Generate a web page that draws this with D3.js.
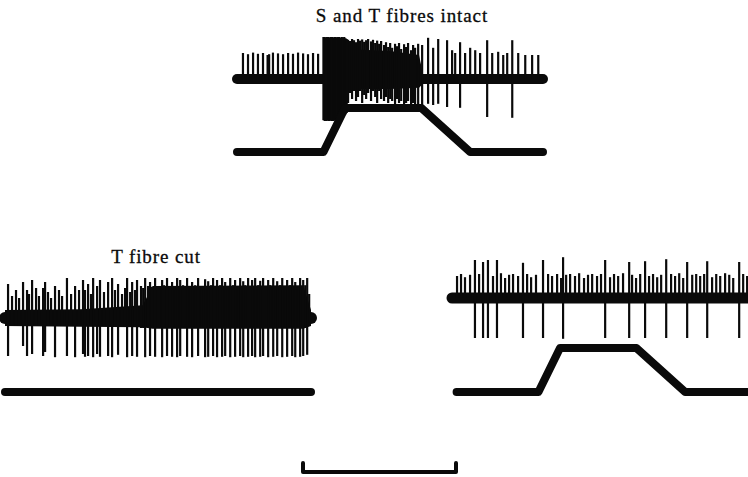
<!DOCTYPE html>
<html>
<head>
<meta charset="utf-8">
<script src="https://cdn.jsdelivr.net/npm/d3@7"></script>
<style>
  html, body { margin: 0; padding: 0; background: #fff; }
  svg { display: block; }
  text { font-family: "Liberation Serif", "Times New Roman", serif; fill: #0a0a0a; }
</style>
</head>
<body>
<div id="chart"></div>
<script>
// ---------- DATA (time in ms, amplitudes in relative units) ----------
const panelTitles = ["S and T fibres intact", "T fibre cut", ""];
const traceDuration = 2000;   // ms per sweep
const scaleBarMs = 1000;      // calibration bar

// stimulus (ramp stretch, 0 = rest, 1 = plateau)
const stimRamp = [[0, 0], [565, 0], [706, 1], [1205, 1], [1524, 0], [2000, 0]];
const stimFlat = [[0, 0], [2000, 0]];

// Panel A: S and T fibres intact  [t, up, down]
const spikesA = [
  [39,0.65,0],[72,0.62,0],[105,0.66,0],[137,0.63,0],[170,0.65,0],[200,0.6,0],[210,0.62,0],[235,0.66,0],
  [268,0.64,0],[301,0.62,0],[334,0.65,0],[366,0.63,0],[399,0.66,0],[432,0.64,0],[464,0.62,0],[497,0.65,0],[530,0.63,0],
  [565,1.05,1.03],[573,1.05,1.05],[581,1.04,1.05],[589,1.05,1.04],[597,1.05,1.05],[605,1.04,1.05],[613,1.05,1.04],
  [621,1.05,1.05],[629,1.04,1.05],[637,1.05,1.04],[645,1.05,1.03],[653,1.04,1.02],[661,1.05,1.0],[669,1.05,0.98],
  [677,1.03,0.95],[685,1.05,0.95],[693,1.04,0.92],[701,1.05,0.9],[709,1.02,0.88],[717,1.0,0.85],
  [726,0.98,0.6],[739,0.95,0.35],[752,1.0,0.5],[765,0.97,0.3],[778,0.92,0.55],[791,1.0,0.45],[804,0.96,0.3],
  [818,0.99,0.6],[831,0.93,0.4],[844,0.97,0.5],[857,1.0,0.35],[876,0.94,0.55],[889,0.98,0.3],[903,0.9,0.45],
  [916,0.96,0.6],[929,0.88,0.3],[942,0.95,0.5],[961,0.85,0.55],[974,0.92,0.45],[988,0.8,0.6],[1001,0.9,0.5],
  [1014,0.78,0.55],[1033,0.88,0.65],[1046,0.82,0.5],[1059,0.9,0.6],[1073,0.75,0.55],[1092,0.87,0.65],
  [1105,0.8,0.6],[1118,0.9,0.55],[1138,0.72,0.65],[1151,0.85,0.6],[1164,0.78,0.7],[1184,0.88,0.65],
  [1210,0.85,0.7],[1249,1.03,0.62],[1282,0.78,0.65],[1315,1.0,0.62],[1373,0.97,0.7],[1406,0.72,0],[1426,0.65,0],
  [1458,0.92,0.72],[1491,0.65,0],[1524,0.78,0],[1557,0.72,0],[1589,0.65,0],[1635,0.97,0.95],[1668,0.65,0],
  [1707,0.68,0],[1740,0.6,0],[1766,0.65,0],[1799,0.97,0.97],[1838,0.65,0],[1884,0.6,0],[1929,0.6,0],[1969,0.6,0]
];
// background activity envelope during the burst in A  [t, up, down]
const envelopeA = [[560,0.12,0.12],[720,0.75,0.25],[1000,0.7,0.25],[1190,0.6,0.22],[1215,0.12,0.12]];

// Panel B: T fibre cut  [t, up, down]
const spikesB = [
  [20,0.85,0.95],[118,0.9,0.7],[144,0.7,0.95],[177,0.95,0.9],[249,0.75,0.95],[262,0.9,0.85],[327,0.8,0.98],
  [405,1.0,0.95],[458,0.8,0.98],[510,0.95,0.9],[523,0.7,0.97],[543,0.85,0.95],[576,1.0,0.98],[602,0.8,0.9],
  [621,0.95,0.97],[674,0.9,0.95],[700,1.0,0.98],[739,0.85,0.92],[798,1.0,0.98],[831,0.9,0.95],[863,0.95,0.97],
  [916,1.0,0.98],[948,0.9,0.95],[981,1.0,0.97],[1027,0.95,0.98],[1059,1.0,0.95],[1092,0.9,0.97],[1125,1.0,0.98],
  [1145,0.95,0.95],[1190,1.0,0.97],[1223,0.9,0.98],[1262,1.0,0.95],[1308,0.97,0.98],[1328,0.92,0.97],
  [1360,1.0,0.95],[1386,0.95,0.98],[1419,1.0,0.97],[1439,0.9,0.95],[1472,1.0,0.98],[1504,0.95,0.97],
  [1537,1.0,0.95],[1557,0.92,0.98],[1589,1.0,0.97],[1615,0.95,0.95],[1635,1.0,0.98],[1668,0.93,0.97],
  [1687,1.0,0.95],[1720,0.95,0.98],[1753,1.0,0.97],[1779,0.92,0.95],[1812,1.0,0.98],[1844,0.95,0.97],
  [1877,1.0,0.95],[1897,0.9,0.98],[1929,1.0,0.97],[1949,0.95,0.95],[1975,1.0,0.92],
  [46,0.55,0.15],[72,0.7,0.2],[92,0.5,0.15],[157,0.6,0.15],[203,0.75,0.2],[222,0.55,0.15],[281,0.65,0.2],
  [301,0.5,0.15],[353,0.7,0.2],[373,0.55,0.15],[432,0.6,0.2],[484,0.7,0.2],[562,0.6,0.2],[647,0.65,0.2],
  [719,0.7,0.2],[765,0.6,0.2],[785,0.75,0.2],[818,0.65,0.2],[850,0.7,0.2],[889,0.8,0.25],[903,0.75,0.25],
  [935,0.8,0.25],[961,0.78,0.25],[1007,0.8,0.25],[1040,0.82,0.25],[1079,0.8,0.25],[1112,0.78,0.25],
  [1164,0.82,0.25],[1177,0.8,0.25],[1210,0.8,0.25],[1243,0.82,0.25],[1282,0.8,0.25],[1295,0.78,0.25],
  [1347,0.82,0.25],[1373,0.8,0.25],[1406,0.82,0.25],[1452,0.8,0.25],[1491,0.82,0.25],[1524,0.8,0.25],
  [1570,0.82,0.25],[1602,0.8,0.25],[1655,0.82,0.25],[1700,0.8,0.25],[1733,0.82,0.25],[1766,0.8,0.25],
  [1798,0.82,0.25],[1831,0.8,0.25],[1864,0.82,0.25],[1916,0.8,0.25],[1962,0.82,0.25],[1988,0.6,0.2]
];
// multi-unit background activity envelope in B  [t, up, down]
const envelopeB = [[0,0.2,0.2],[500,0.22,0.22],[900,0.32,0.23],[965,0.8,0.27],[1950,0.82,0.27],[2000,0.2,0.2]];

// Panel C: T fibre alone (S fibre cut)  [t, up, down]
const spikesC = [
  [150,0.95,1.0],[203,0.9,1.0],[235,0.95,1.0],[294,0.95,1.0],[464,0.88,1.0],[595,0.95,1.0],[726,1.02,1.02],
  [1001,0.95,1.0],[1158,0.9,1.0],[1262,0.92,1.0],[1400,0.97,1.0],[1537,0.9,1.0],[1668,0.92,1.0],[1877,0.9,1.0],
  [33,0.55,0],[59,0.6,0],[85,0.52,0],[118,0.58,0],[177,0.6,0],[268,0.55,0],[320,0.62,0],[347,0.5,0],[373,0.58,0],
  [399,0.6,0],[432,0.55,0],[491,0.6,0],[517,0.52,0],[549,0.58,0],[628,0.6,0],[654,0.55,0],[687,0.6,0],[713,0.5,0],
  [746,0.58,0],[772,0.6,0],[804,0.55,0],[831,0.62,0],[863,0.5,0],[889,0.58,0],[916,0.6,0],[948,0.55,0],[974,0.6,0],
  [1033,0.52,0],[1059,0.6,0],[1086,0.55,0],[1118,0.62,0],[1177,0.58,0],[1203,0.5,0],[1230,0.6,0],[1288,0.55,0],
  [1314,0.6,0],[1341,0.52,0],[1367,0.58,0],[1432,0.6,0],[1458,0.55,0],[1485,0.62,0],[1511,0.5,0],[1570,0.58,0],
  [1596,0.6,0],[1622,0.55,0],[1648,0.6,0],[1700,0.52,0],[1727,0.6,0],[1753,0.55,0],[1785,0.62,0],[1812,0.58,0],
  [1838,0.5,0],[1903,0.6,0],[1929,0.55,0]
];

// ---------- LAYOUT ----------
const W = 748, H = 477;
const ink = "#0a0a0a";
const panels = [
  { title: panelTitles[0], x0: 237, x1: 543, spikeBase: 79, stimBase: 152, spikes: spikesA, stim: stimRamp, envelope: envelopeA, baseW: 10, stimStart: 0, titleX: 402, titleY: 22 },
  { title: panelTitles[1], x0: 5, x1: 311, spikeBase: 318, stimBase: 392, spikes: spikesB, stim: stimFlat, envelope: envelopeB, baseW: 12, stimStart: 0, titleX: 156, titleY: 263 },
  { title: panelTitles[2], x0: 452, x1: 758, spikeBase: 298, stimBase: 392, spikes: spikesC, stim: stimRamp, envelope: null, baseW: 11, stimStart: 30, titleX: 600, titleY: 263 }
];
const ampPx = 40, stimPx = 44;

const svg = d3.select("#chart").append("svg").attr("width", W).attr("height", H);

panels.forEach(p => {
  const x = d3.scaleLinear().domain([0, traceDuration]).range([p.x0, p.x1]);
  const y = d3.scaleLinear().domain([-1, 1]).range([p.spikeBase + ampPx, p.spikeBase - ampPx]);
  const ys = d3.scaleLinear().domain([0, 1]).range([p.stimBase, p.stimBase - stimPx]);
  const g = svg.append("g");

  if (p.title) {
    g.append("text").attr("x", p.titleX).attr("y", p.titleY)
      .attr("text-anchor", "middle").attr("font-size", 19).attr("letter-spacing", 0.9)
      .attr("stroke", ink).attr("stroke-width", 0.3)
      .text(p.title);
  }

  // baseline of neural trace
  g.append("path")
    .datum([0, traceDuration])
    .attr("d", d3.line().x(d => x(d)).y(() => y(0)))
    .attr("stroke", ink).attr("stroke-width", p.baseW).attr("stroke-linecap", "round").attr("fill", "none");

  if (p.envelope) {
    g.append("path").datum(p.envelope)
      .attr("d", d3.area().x(d => x(d[0])).y0(d => y(-d[2])).y1(d => y(d[1])))
      .attr("fill", ink);
  }

  // spikes
  g.selectAll("line.spk").data(p.spikes).join("line")
    .attr("class", "spk")
    .attr("x1", d => x(d[0])).attr("x2", d => x(d[0]))
    .attr("y1", d => y(d[1])).attr("y2", d => y(-d[2]))
    .attr("stroke", ink).attr("stroke-width", 2.2);

  // stimulus trace
  const stimPts = [[p.stimStart, p.stim[0][1]], ...p.stim.filter(d => d[0] > p.stimStart)];
  g.append("path").datum(stimPts)
    .attr("d", d3.line().x(d => x(d[0])).y(d => ys(d[1])))
    .attr("stroke", ink).attr("stroke-width", 8).attr("stroke-linecap", "round").attr("stroke-linejoin", "round")
    .attr("fill", "none");
});

// calibration bar (1 s)
const xb = d3.scaleLinear().domain([0, traceDuration]).range([303, 609]);
const barY = 472, tickH = 9;
svg.append("path")
  .attr("d", d3.line()([[xb(0), barY - tickH], [xb(0), barY], [xb(scaleBarMs), barY], [xb(scaleBarMs), barY - tickH]]))
  .attr("stroke", ink).attr("stroke-width", 4).attr("fill", "none")
  .attr("stroke-linecap", "round").attr("stroke-linejoin", "round");
</script>
</body>
</html>
